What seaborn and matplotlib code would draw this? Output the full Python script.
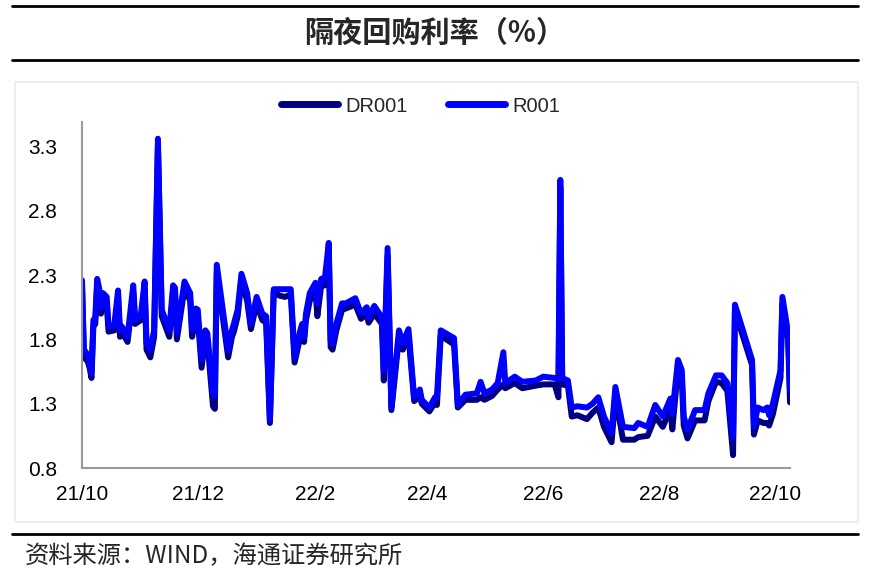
import pandas as pd
import numpy as np
import seaborn as sns
import matplotlib.pyplot as plt
from matplotlib.lines import Line2D
from matplotlib.patches import Rectangle

# values
dates = [
    "2021-10-01", "2021-10-02", "2021-10-04", "2021-10-05", "2021-10-06", "2021-10-07", "2021-10-08",
    "2021-10-09", "2021-10-10", "2021-10-11", "2021-10-12", "2021-10-14", "2021-10-15", "2021-10-18",
    "2021-10-20", "2021-10-21", "2021-10-22", "2021-10-25", "2021-10-28", "2021-10-29", "2021-11-01",
    "2021-11-03", "2021-11-04", "2021-11-06", "2021-11-08", "2021-11-10", "2021-11-12", "2021-11-16",
    "2021-11-18", "2021-11-19", "2021-11-20", "2021-11-24", "2021-11-27", "2021-11-28", "2021-11-30",
    "2021-12-01", "2021-12-03", "2021-12-05", "2021-12-06", "2021-12-09", "2021-12-10", "2021-12-11",
    "2021-12-17", "2021-12-19", "2021-12-20", "2021-12-22", "2021-12-24", "2021-12-27", "2021-12-29",
    "2022-01-01", "2022-01-04", "2022-01-06", "2022-01-08", "2022-01-10", "2022-01-13", "2022-01-16",
    "2022-01-19", "2022-01-21", "2022-01-24", "2022-01-25", "2022-01-26", "2022-01-27", "2022-01-29",
    "2022-02-01", "2022-02-02", "2022-02-04", "2022-02-06", "2022-02-08", "2022-02-09", "2022-02-10",
    "2022-02-12", "2022-02-15", "2022-02-17", "2022-02-22", "2022-02-25", "2022-02-28", "2022-03-01",
    "2022-03-04", "2022-03-08", "2022-03-09", "2022-03-11", "2022-03-13", "2022-03-17", "2022-03-19",
    "2022-03-22", "2022-03-25", "2022-03-28", "2022-03-29", "2022-04-02", "2022-04-05", "2022-04-06",
    "2022-04-08", "2022-04-15", "2022-04-17", "2022-04-21", "2022-04-27", "2022-04-29", "2022-05-01",
    "2022-05-05", "2022-05-08", "2022-05-11", "2022-05-12", "2022-05-17", "2022-05-21", "2022-05-28",
    "2022-06-01", "2022-06-07", "2022-06-09", "2022-06-10", "2022-06-11", "2022-06-14", "2022-06-16",
    "2022-06-19", "2022-06-24", "2022-06-27", "2022-06-30", "2022-07-03", "2022-07-07", "2022-07-09",
    "2022-07-13", "2022-07-19", "2022-07-21", "2022-07-26", "2022-07-30", "2022-08-03", "2022-08-07",
    "2022-08-08", "2022-08-11", "2022-08-13", "2022-08-14", "2022-08-16", "2022-08-20", "2022-08-25",
    "2022-08-27", "2022-08-31", "2022-09-03", "2022-09-06", "2022-09-09", "2022-09-10", "2022-09-19",
    "2022-09-20", "2022-09-22", "2022-09-25", "2022-09-27", "2022-09-28", "2022-09-30", "2022-10-04",
    "2022-10-05", "2022-10-08", "2022-10-09",
]

r001 = [
    2.26, 1.72, 1.68, 1.62, 1.54, 1.95, 1.97,
    2.27, 2.20, 2.05, 2.16, 2.13, 1.90, 1.91,
    2.18, 1.87, 1.90, 1.82, 2.22, 1.95, 1.99,
    2.25, 1.77, 1.72, 1.87, 3.36, 2.03, 1.87,
    2.22, 2.20, 1.85, 2.25, 2.16, 1.87, 2.04,
    2.03, 1.64, 1.87, 1.85, 1.38, 1.36, 2.38,
    1.72, 1.87, 1.92, 2.03, 2.31, 2.16, 1.92,
    2.13, 2.00, 1.98, 1.17, 2.19, 2.19, 2.19,
    2.19, 1.66, 1.87, 1.92, 1.82, 2.00, 2.16,
    2.24, 2.08, 2.27, 2.28, 2.55, 1.79, 1.77,
    1.92, 2.08, 2.08, 2.12, 2.00, 2.05, 1.97,
    2.06, 1.97, 1.56, 2.51, 1.27, 1.87, 1.77,
    1.88, 1.35, 1.41, 1.33, 1.27, 1.35, 1.35,
    1.87, 1.81, 1.29, 1.37, 1.38, 1.47, 1.38,
    1.41, 1.46, 1.70, 1.46, 1.51, 1.47, 1.48,
    1.51, 1.50, 1.49, 3.04, 1.50, 1.48, 1.27,
    1.28, 1.27, 1.30, 1.35, 1.20, 1.07, 1.43,
    1.12, 1.11, 1.15, 1.12, 1.29, 1.20, 1.34,
    1.22, 1.64, 1.56, 1.20, 1.10, 1.25, 1.25,
    1.38, 1.52, 1.52, 1.46, 1.04, 2.07, 1.64,
    1.12, 1.27, 1.25, 1.27, 1.21, 1.30, 1.56,
    2.13, 1.85, 1.41,
]

dr001 = [
    2.22, 1.66, 1.63, 1.58, 1.50, 1.90, 1.92,
    2.22, 2.14, 2.00, 2.10, 2.08, 1.86, 1.87,
    2.12, 1.82, 1.86, 1.78, 2.16, 1.92, 1.95,
    2.20, 1.72, 1.66, 1.82, 3.30, 1.98, 1.82,
    2.17, 2.15, 1.80, 2.20, 2.10, 1.82, 1.98,
    1.97, 1.58, 1.82, 1.80, 1.28, 1.26, 2.32,
    1.66, 1.82, 1.86, 1.98, 2.26, 2.10, 1.88,
    2.08, 1.95, 1.93, 1.15, 2.17, 2.14, 2.13,
    2.15, 1.62, 1.82, 1.87, 1.78, 1.95, 2.10,
    2.18, 1.98, 2.22, 2.22, 2.50, 1.74, 1.72,
    1.87, 2.03, 2.04, 2.07, 1.96, 2.00, 1.93,
    2.00, 1.92, 1.48, 2.45, 1.25, 1.82, 1.72,
    1.83, 1.32, 1.36, 1.30, 1.24, 1.31, 1.29,
    1.83, 1.76, 1.27, 1.33, 1.33, 1.35, 1.33,
    1.36, 1.41, 1.45, 1.42, 1.46, 1.42, 1.44,
    1.45, 1.45, 1.35, 2.98, 1.45, 1.44, 1.20,
    1.21, 1.18, 1.23, 1.27, 1.12, 1.00, 1.36,
    1.02, 1.02, 1.04, 1.05, 1.20, 1.12, 1.26,
    1.10, 1.58, 1.50, 1.13, 1.03, 1.17, 1.17,
    1.32, 1.47, 1.46, 1.40, 0.90, 2.02, 1.60,
    1.06, 1.17, 1.15, 1.15, 1.13, 1.22, 1.50,
    2.08, 1.80, 1.31,
]

series_names = ["DR001", "R001"]
series_colors = {"DR001": "#000080", "R001": "#0000FF"}
yticks = [0.8, 1.3, 1.8, 2.3, 2.8, 3.3]
xtick_dates = ["2021-10-01", "2021-12-01", "2022-02-01", "2022-04-01",
               "2022-06-01", "2022-08-01", "2022-10-01"]
xtick_labels = ["21/10", "21/12", "22/2", "22/4", "22/6", "22/8", "22/10"]

df = pd.DataFrame({"date": pd.to_datetime(dates), "DR001": dr001, "R001": r001})
long_df = df.melt(id_vars="date", var_name="series", value_name="rate")

sns.set_style("white")
plt.rcParams["font.family"] = ["Liberation Sans", "Noto Sans CJK SC", "DejaVu Sans"]
cjk = ["Noto Sans CJK SC", "DejaVu Sans"]

fig = plt.figure(figsize=(8.69, 5.79), dpi=100)

# panel frame behind the chart
fig.patches.append(Rectangle((15 / 869, 1 - 522 / 579), 843 / 869, 440 / 579,
                             transform=fig.transFigure, facecolor="white",
                             edgecolor="#ebebeb", linewidth=1.2, zorder=-5))

ax = fig.add_axes([82 / 869, 1 - 468 / 579, 708 / 869, 346 / 579])
ax.set_zorder(2)
ax.patch.set_alpha(0)

for name in series_names:
    sns.lineplot(data=long_df[long_df["series"] == name], x="date", y="rate",
                 color=series_colors[name], linewidth=4.3, ax=ax,
                 estimator=None, legend=False)

ax.set_xlim(pd.Timestamp("2021-10-01"), pd.Timestamp("2022-10-09"))
ax.set_ylim(0.8, 3.49)
ax.set_yticks(yticks)
ax.set_yticklabels([f"{v:.1f}" for v in yticks])
ax.set_xticks(pd.to_datetime(xtick_dates))
ax.set_xticklabels(xtick_labels)
ax.set_xlabel("")
ax.set_ylabel("")

for side in ["top", "right"]:
    ax.spines[side].set_visible(False)
for side in ["left", "bottom"]:
    ax.spines[side].set_color("#999999")
    ax.spines[side].set_linewidth(1.5)
ax.tick_params(axis="both", direction="out", length=5, width=1.2, color="#999999",
               labelsize=15, labelcolor="black")
ax.tick_params(axis="y", pad=13)
ax.tick_params(axis="x", pad=7)

handles = [Line2D([0], [0], color=series_colors[n], linewidth=5, solid_capstyle="round")
           for n in series_names]
fig.legend(handles, series_names, loc="center", bbox_to_anchor=(421 / 869, 1 - 106 / 579),
           ncol=2, frameon=False, fontsize=14.5, handlelength=2.8, columnspacing=2.0,
           handletextpad=0.4)

# title bar
fig.add_artist(Line2D([12 / 869, 858 / 869], [1 - 6 / 579, 1 - 6 / 579], color="black", linewidth=2))
fig.add_artist(Line2D([12 / 869, 858 / 869], [1 - 60 / 579, 1 - 60 / 579], color="black", linewidth=2))
fig.text(0.5, 1 - 33 / 579, "隔夜回购利率（%）", ha="center", va="center", fontsize=21,
         fontweight="bold", family=cjk)

# source footer
fig.add_artist(Line2D([12 / 869, 858 / 869], [1 - 534 / 579, 1 - 534 / 579], color="black", linewidth=2))
fig.text(25 / 869, 1 - 556 / 579, "资料来源：WIND，海通证券研究所", ha="left", va="center",
         fontsize=17.5, family=cjk)

fig.savefig("out.png", dpi=100)
